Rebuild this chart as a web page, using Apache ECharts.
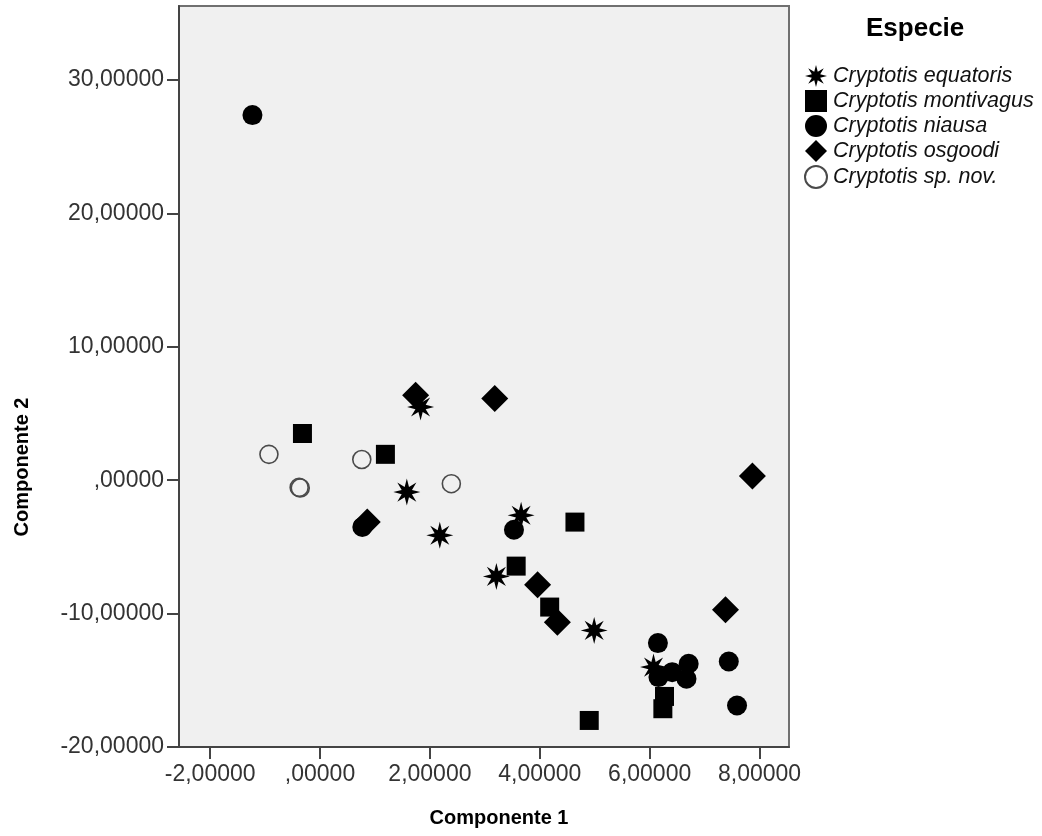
<!DOCTYPE html>
<html>
<head>
<meta charset="utf-8">
<script src="https://cdn.jsdelivr.net/npm/echarts@6/dist/echarts.min.js"></script>
<style>
html,body{margin:0;padding:0;background:#fff;}
#chart{width:1042px;height:836px;}
</style>
</head>
<body>
<div id="chart"></div>
<script>
// ---- data ----
const seriesNames = ['Cryptotis equatoris','Cryptotis montivagus','Cryptotis niausa','Cryptotis osgoodi','Cryptotis sp. nov.'];
const equatoris = [[1.83,5.49],[1.58,-0.89],[2.18,-4.13],[3.66,-2.63],[3.21,-7.21],[4.99,-11.26],[6.07,-14.01]];
const montivagus = [[-0.32,3.50],[1.19,1.94],[4.64,-3.14],[3.57,-6.44],[4.18,-9.51],[4.90,-18.01],[6.27,-16.21],[6.24,-17.13]];
const niausa = [[-1.23,27.37],[0.77,-3.51],[3.53,-3.71],[6.15,-12.21],[6.16,-14.76],[6.41,-14.39],[6.71,-13.76],[6.67,-14.88],[7.44,-13.59],[7.59,-16.89]];
const osgoodi = [[1.74,6.37],[3.18,6.12],[0.86,-3.14],[3.96,-7.83],[4.32,-10.64],[7.38,-9.71],[7.87,0.31]];
const spnov = [[-0.93,1.94],[0.76,1.55],[-0.38,-0.54],[-0.36,-0.58],[2.39,-0.26]];
const xTicks = [-2,0,2,4,6,8];
const yTicks = [-20,-10,0,10,20,30];
const xTitle = 'Componente 1';
const yTitle = 'Componente 2';
const legendTitle = 'Especie';

function fmt(v){
  if (Math.abs(v) < 1e-9) return ',00000';
  return v.toFixed(5).replace('.', ',');
}

const starPath = 'path://M100,0 L116,62 L170.7,29.3 L138,84 L200,100 L138,116 L170.7,170.7 L116,138 L100,200 L84,138 L29.3,170.7 L62,116 L0,100 L62,84 L29.3,29.3 L84,62 Z';

const chart = echarts.init(document.getElementById('chart'), null, {renderer:'canvas'});
const axisColor = '#444';
const labelStyle = {color:'#333', fontFamily:'Liberation Sans, Arial, sans-serif', fontSize:23};

const option = {
  animation:false,
  backgroundColor:'#ffffff',
  grid:{left:179, top:6, width:610, height:741, show:true, backgroundColor:'#f0f0f0', borderColor:'#707070', borderWidth:2, containLabel:false},
  xAxis:{
    type:'value', min:-2.567, max:8.536,
    splitLine:{show:false},
    axisLine:{show:true, onZero:false, lineStyle:{color:axisColor, width:2}},
    axisTick:{show:true, length:12, lineStyle:{color:axisColor, width:2}, customValues:xTicks},
    axisLabel:Object.assign({margin:16, customValues:xTicks, formatter:fmt}, labelStyle)
  },
  yAxis:{
    type:'value', min:-20, max:35.55,
    splitLine:{show:false},
    axisLine:{show:true, onZero:false, lineStyle:{color:axisColor, width:2}},
    axisTick:{show:true, length:12, lineStyle:{color:axisColor, width:2}, customValues:yTicks},
    axisLabel:Object.assign({margin:15, customValues:yTicks, formatter:fmt}, labelStyle)
  },
  legend:{
    orient:'vertical', left:799, top:60,
    itemWidth:22, itemHeight:22, itemGap:3,
    data:seriesNames,
    textStyle:{fontFamily:'Liberation Sans, Arial, sans-serif', fontStyle:'italic', fontSize:21.5, color:'#111', lineHeight:22, padding:[0,0,0,1]}
  },
  graphic:[
    {type:'text', left:866, top:16, style:{text:legendTitle, font:'bold 26px "Liberation Sans", Arial, sans-serif', fill:'#000'}},
    {type:'text', x:499, y:818, style:{text:xTitle, font:'bold 20px "Liberation Sans", Arial, sans-serif', fill:'#000', textAlign:'center', textVerticalAlign:'middle'}},
    {type:'text', x:22, y:467, rotation:Math.PI/2, style:{text:yTitle, font:'bold 20px "Liberation Sans", Arial, sans-serif', fill:'#000', textAlign:'center', textVerticalAlign:'middle'}}
  ],
  series:[
    {name:seriesNames[0], type:'scatter', data:equatoris, symbol:starPath, symbolSize:27, itemStyle:{color:'#000', opacity:1}},
    {name:seriesNames[1], type:'scatter', data:montivagus, symbol:'rect', symbolSize:19, itemStyle:{color:'#000', opacity:1}},
    {name:seriesNames[2], type:'scatter', data:niausa, symbol:'circle', symbolSize:20, itemStyle:{color:'#000', opacity:1}},
    {name:seriesNames[3], type:'scatter', data:osgoodi, symbol:'diamond', symbolSize:27, itemStyle:{color:'#000', opacity:1}},
    {name:seriesNames[4], type:'scatter', data:spnov, symbol:'circle', symbolSize:18, itemStyle:{color:'rgba(0,0,0,0)', borderColor:'#4a4a4a', borderWidth:1.6, opacity:1}}
  ]
};
chart.setOption(option);
</script>
</body>
</html>
